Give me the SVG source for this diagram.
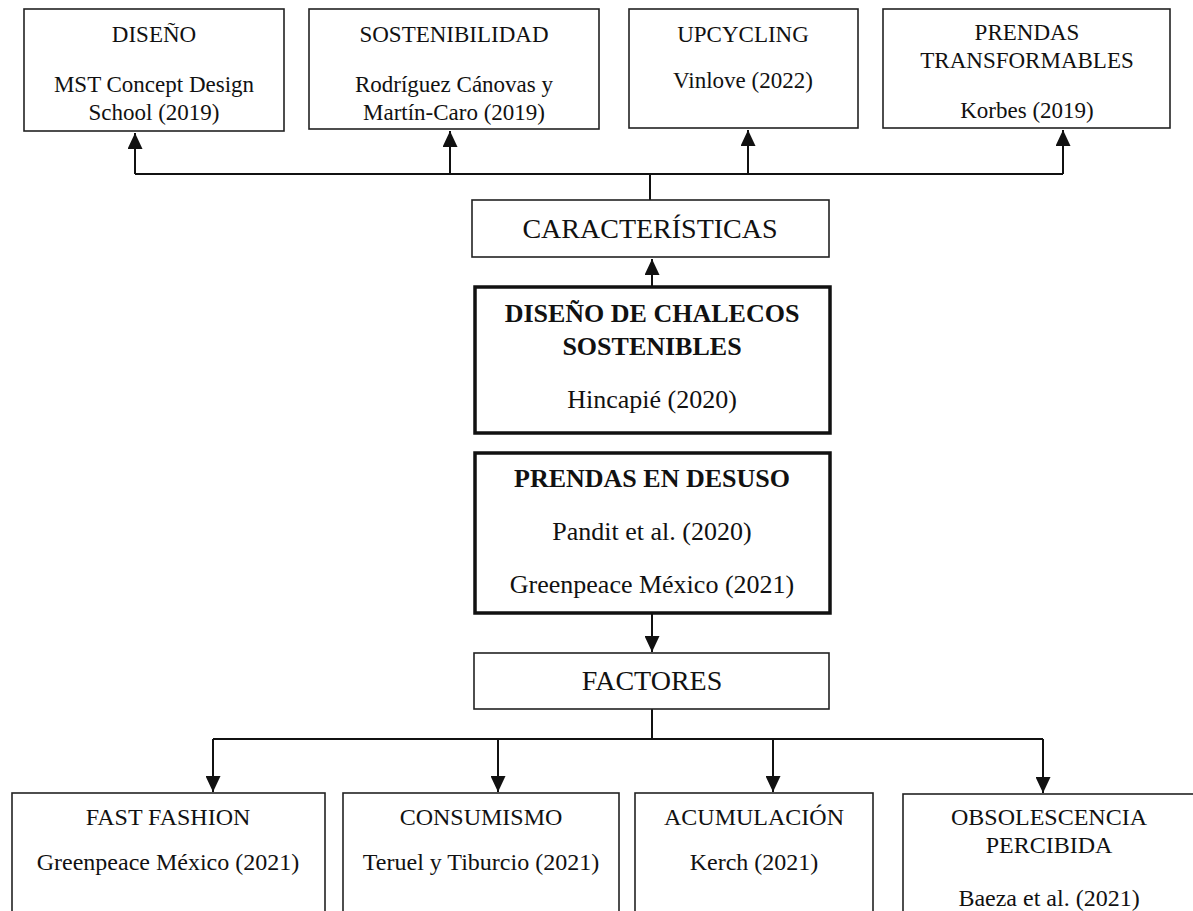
<svg xmlns="http://www.w3.org/2000/svg" width="1193" height="911" viewBox="0 0 1193 911">
<style>
.bg{fill:#fff}
.box{fill:#fff;stroke:#222;stroke-width:1.6}
.bold-box{fill:#fff;stroke:#111;stroke-width:3.5}
.t{font-family:"Liberation Serif","Times New Roman",serif;fill:#111;text-anchor:middle}
.top{font-size:23px}
.mid{font-size:26px}
.midb{font-size:26px;font-weight:bold}
.big{font-size:28px}
.bot{font-size:24px}
.conn{fill:none;stroke:#111;stroke-width:2}
</style>
<defs>
<marker id="ah" markerUnits="userSpaceOnUse" markerWidth="16" markerHeight="15" viewBox="0 0 16 15" refX="16" refY="7.5" orient="auto">
<path d="M0,0 L16,7.5 L0,15 z" fill="#111"/>
</marker>
</defs>
<rect class="bg" x="0" y="0" width="1193" height="911"/>

<g id="connectors">
<path class="conn" d="M135 174 H1063"/>
<path class="conn" d="M650 200 V174"/>
<path class="conn" d="M135 174 V133" marker-end="url(#ah)"/>
<path class="conn" d="M450 174 V131" marker-end="url(#ah)"/>
<path class="conn" d="M748 174 V130" marker-end="url(#ah)"/>
<path class="conn" d="M1063 174 V130" marker-end="url(#ah)"/>
<path class="conn" d="M652 287 V259" marker-end="url(#ah)"/>
<path class="conn" d="M652 613 V652" marker-end="url(#ah)"/>
<path class="conn" d="M652 709 V739"/>
<path class="conn" d="M213 739 H1043"/>
<path class="conn" d="M213 739 V792" marker-end="url(#ah)"/>
<path class="conn" d="M498 739 V792" marker-end="url(#ah)"/>
<path class="conn" d="M773 739 V792" marker-end="url(#ah)"/>
<path class="conn" d="M1043 739 V793" marker-end="url(#ah)"/>
</g>

<g id="diseno">
<rect class="box" x="24" y="9" width="260" height="122"/>
<text class="t top" x="154" y="42">DISEÑO</text>
<text class="t top" x="154" y="92">MST Concept Design</text>
<text class="t top" x="154" y="120">School (2019)</text>
</g>

<g id="sostenibilidad">
<rect class="box" x="309" y="9" width="290" height="120"/>
<text class="t top" x="454" y="42">SOSTENIBILIDAD</text>
<text class="t top" x="454" y="92">Rodríguez Cánovas y</text>
<text class="t top" x="454" y="120">Martín-Caro (2019)</text>
</g>

<g id="upcycling">
<rect class="box" x="629" y="9" width="229" height="119"/>
<text class="t top" x="743" y="42">UPCYCLING</text>
<text class="t top" x="743" y="88">Vinlove (2022)</text>
</g>

<g id="prendas-transformables">
<rect class="box" x="883" y="9" width="287" height="119"/>
<text class="t top" x="1027" y="40">PRENDAS</text>
<text class="t top" x="1027" y="68">TRANSFORMABLES</text>
<text class="t top" x="1027" y="118">Korbes (2019)</text>
</g>

<g id="caracteristicas">
<rect class="box" x="472" y="200" width="357" height="57"/>
<text class="t big" x="650" y="238">CARACTERÍSTICAS</text>
</g>

<g id="diseno-chalecos">
<rect class="bold-box" x="475" y="287" width="355" height="146"/>
<text class="t midb" x="652" y="322">DISEÑO DE CHALECOS</text>
<text class="t midb" x="652" y="355">SOSTENIBLES</text>
<text class="t mid" x="652" y="408">Hincapié (2020)</text>
</g>

<g id="prendas-desuso">
<rect class="bold-box" x="475" y="453" width="355" height="160"/>
<text class="t midb" x="652" y="487">PRENDAS EN DESUSO</text>
<text class="t mid" x="652" y="540">Pandit et al. (2020)</text>
<text class="t mid" x="652" y="593">Greenpeace México (2021)</text>
</g>

<g id="factores">
<rect class="box" x="474" y="653" width="355" height="56"/>
<text class="t big" x="652" y="690">FACTORES</text>
</g>

<g id="fast-fashion">
<rect class="box" x="12" y="793" width="313" height="150"/>
<text class="t bot" x="168" y="825">FAST FASHION</text>
<text class="t bot" x="168" y="870">Greenpeace México (2021)</text>
</g>

<g id="consumismo">
<rect class="box" x="343" y="793" width="276" height="150"/>
<text class="t bot" x="481" y="825">CONSUMISMO</text>
<text class="t bot" x="481" y="870">Teruel y  Tiburcio (2021)</text>
</g>

<g id="acumulacion">
<rect class="box" x="635" y="793" width="238" height="150"/>
<text class="t bot" x="754" y="825">ACUMULACIÓN</text>
<text class="t bot" x="754" y="870">Kerch (2021)</text>
</g>

<g id="obsolescencia">
<rect class="box" x="903" y="794" width="320" height="150"/>
<text class="t bot" x="1049" y="825">OBSOLESCENCIA</text>
<text class="t bot" x="1049" y="853">PERCIBIDA</text>
<text class="t bot" x="1049" y="906">Baeza et al. (2021)</text>
</g>
</svg>
